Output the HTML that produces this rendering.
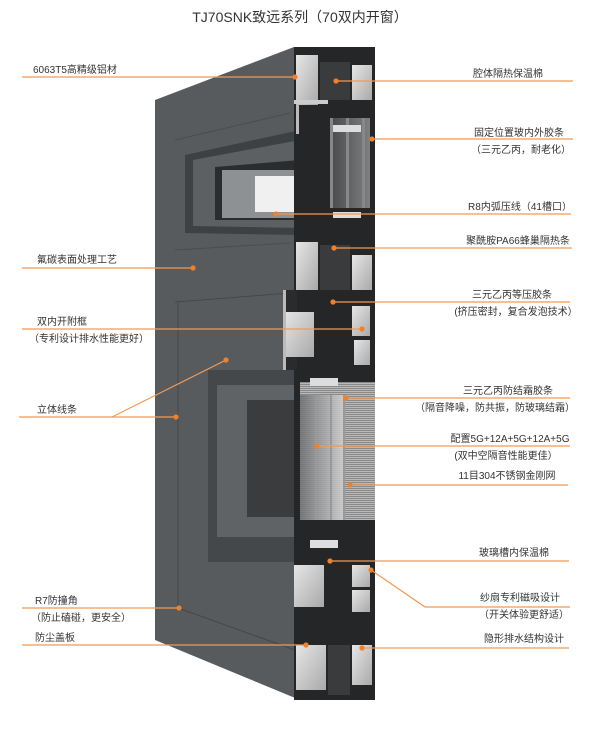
<!DOCTYPE html>
<html><head><meta charset="utf-8"><style>
html,body{margin:0;padding:0;background:#fff;}
body{width:600px;height:732px;overflow:hidden;}
svg text{font-family:"Liberation Sans","Noto Sans CJK SC",sans-serif;fill:#333;}
</style></head><body>
<svg width="600" height="732" viewBox="0 0 600 732" xmlns="http://www.w3.org/2000/svg">
<defs>
<linearGradient id="al" x1="0" y1="0" x2="1" y2="1"><stop offset="0" stop-color="#e6e6e6"/><stop offset="1" stop-color="#a9a9a9"/></linearGradient>
<linearGradient id="gl" x1="0" y1="0" x2="1" y2="0"><stop offset="0" stop-color="#6a6d70"/><stop offset="1" stop-color="#d8d8d8"/></linearGradient>
<pattern id="mesh" width="2" height="2" patternUnits="userSpaceOnUse"><rect width="2" height="2" fill="#b8b8b8"/><rect width="2" height="1" fill="#8a8a8a"/></pattern>
</defs>
<text x="300" y="22" font-size="14" text-anchor="middle">TJ70SNK致远系列（70双内开窗）</text>

<polygon points="155,100 294,47 300,700 155,640" fill="#585b5e"/>
<line x1="175" y1="302" x2="290" y2="293" stroke="#45484a"/>
<line x1="178" y1="302" x2="178" y2="608" stroke="#45484a"/>
<line x1="178" y1="608" x2="295" y2="650" stroke="#45484a"/>
<line x1="175" y1="140" x2="290" y2="113" stroke="#4a4d50"/>
<line x1="175" y1="250" x2="290" y2="243" stroke="#4a4d50"/>
<polygon points="185,155 300,130 300,235 185,233" fill="#3e4143"/>
<polygon points="193,160 300,140 300,228 193,226" fill="#5d6063"/>
<polygon points="215,167 300,160 300,220 215,220" fill="#2a2c2e"/>
<rect x="222" y="170" width="78" height="48" fill="#8e9194"/>
<rect x="255" y="176" width="45" height="36" fill="#f0f0f0"/>
<rect x="208" y="370" width="92" height="192" fill="#45484b"/>
<rect x="217" y="385" width="83" height="152" fill="#606366"/>
<rect x="247" y="400" width="53" height="117" fill="#3a3c3e"/>

<rect x="294" y="47" width="81" height="653" fill="#252628"/>
<rect x="296" y="55" width="22" height="50" fill="url(#al)"/>
<rect x="320" y="62" width="30" height="38" fill="#3a3b3d"/>
<rect x="352" y="65" width="20" height="35" fill="url(#al)"/>
<rect x="294" y="100" width="34" height="4" fill="#ccc"/>
<rect x="296" y="104" width="3" height="30" fill="#bbb"/>
<rect x="330" y="118" width="40" height="90" fill="url(#gl)" opacity="0.5"/>
<rect x="330" y="118" width="3" height="90" fill="#888"/>
<rect x="346" y="118" width="3" height="90" fill="#888"/>
<rect x="362" y="118" width="3" height="90" fill="#888"/>
<rect x="333" y="125" width="28" height="7" fill="#ddd"/>
<rect x="333" y="212" width="28" height="6" fill="#ddd"/>
<rect x="296" y="242" width="22" height="48" fill="url(#al)"/>
<rect x="320" y="245" width="30" height="45" fill="#3a3b3d"/>
<rect x="352" y="255" width="20" height="35" fill="url(#al)"/>
<rect x="283" y="290" width="14" height="80" fill="#2a2b2d"/>
<rect x="284" y="312" width="30" height="45" fill="url(#al)"/>
<rect x="283" y="290" width="3" height="80" fill="#bbb"/>
<rect x="352" y="306" width="18" height="30" fill="url(#al)"/>
<rect x="354" y="340" width="16" height="25" fill="url(#al)"/>
<rect x="300" y="382" width="75" height="138" fill="url(#mesh)"/>
<rect x="300" y="395" width="45" height="125" fill="url(#gl)" opacity="0.8"/>
<rect x="315" y="395" width="2" height="125" fill="#999"/>
<rect x="330" y="395" width="2" height="125" fill="#999"/>
<rect x="343" y="395" width="2" height="125" fill="#999"/>
<rect x="310" y="378" width="28" height="8" fill="#ddd"/>
<rect x="310" y="540" width="28" height="8" fill="#ddd"/>
<rect x="294" y="565" width="30" height="42" fill="url(#al)"/>
<rect x="352" y="565" width="18" height="22" fill="url(#al)"/>
<rect x="352" y="590" width="18" height="22" fill="url(#al)"/>
<rect x="296" y="645" width="30" height="45" fill="url(#al)"/>
<rect x="328" y="645" width="22" height="50" fill="#3a3b3d"/>
<rect x="352" y="645" width="20" height="40" fill="url(#al)"/>

<g stroke="#f19a55" stroke-width="1.2" fill="none">
<line x1="22" y1="77" x2="295" y2="77"/>
<line x1="22" y1="268" x2="193" y2="268"/>
<line x1="22" y1="329" x2="362" y2="329"/>
<line x1="19" y1="417" x2="176" y2="417"/>
<line x1="112" y1="417" x2="226" y2="360"/>
<line x1="22" y1="608" x2="179" y2="608"/>
<line x1="22" y1="645" x2="306" y2="645"/>
<line x1="336" y1="81" x2="573" y2="81"/>
<line x1="372" y1="139" x2="573" y2="139"/>
<line x1="276" y1="214" x2="571" y2="214"/>
<line x1="334" y1="248" x2="572" y2="248"/>
<line x1="333" y1="302" x2="570" y2="302"/>
<line x1="346" y1="398" x2="570" y2="398"/>
<line x1="317" y1="446" x2="570" y2="446"/>
<line x1="350" y1="485" x2="568" y2="485"/>
<line x1="330" y1="561" x2="569" y2="561"/>
<polyline points="371,570 425,607 570,607"/>
<line x1="362" y1="648" x2="569" y2="648"/>
</g>
<g fill="#f0812a">
<circle cx="295" cy="77" r="2.6"/><circle cx="193" cy="268" r="2.6"/><circle cx="362" cy="329" r="2.6"/>
<circle cx="176" cy="417" r="2.6"/><circle cx="226" cy="360" r="2.6"/><circle cx="179" cy="608" r="2.6"/>
<circle cx="306" cy="645" r="2.6"/><circle cx="336" cy="81" r="2.6"/><circle cx="372" cy="139" r="2.6"/>
<circle cx="276" cy="214" r="2.6"/><circle cx="334" cy="248" r="2.6"/><circle cx="333" cy="302" r="2.6"/>
<circle cx="346" cy="398" r="2.6"/><circle cx="317" cy="446" r="2.6"/><circle cx="350" cy="485" r="2.6"/>
<circle cx="330" cy="561" r="2.6"/><circle cx="371" cy="570" r="2.6"/><circle cx="362" cy="648" r="2.6"/>
</g>

<g font-size="10">
<text x="33" y="73">6063T5高精级铝材</text>
<text x="37" y="263">氟碳表面处理工艺</text>
<text x="37" y="325">双内开附框</text>
<text x="29" y="342">（专利设计排水性能更好）</text>
<text x="37" y="413">立体线条</text>
<text x="35" y="604">R7防撞角</text>
<text x="31" y="621">（防止磕碰，更安全）</text>
<text x="35" y="641">防尘盖板</text>
</g>
<g font-size="10" text-anchor="middle">
<text x="508" y="77">腔体隔热保温棉</text>
<text x="519" y="136">固定位置玻内外胶条</text>
<text x="521" y="153">（三元乙丙，耐老化）</text>
<text x="520" y="210">R8内弧压线（41槽口）</text>
<text x="518" y="244">聚酰胺PA66蜂巢隔热条</text>
<text x="512" y="298">三元乙丙等压胶条</text>
<text x="516" y="315">(挤压密封，复合发泡技术）</text>
<text x="508" y="394">三元乙丙防结霜胶条</text>
<text x="495" y="411">（隔音降噪，防共振，防玻璃结霜）</text>
<text x="510" y="442">配置5G+12A+5G+12A+5G</text>
<text x="506" y="459">(双中空隔音性能更佳）</text>
<text x="507" y="479">11目304不锈钢金刚网</text>
<text x="514" y="556">玻璃槽内保温棉</text>
<text x="520" y="601">纱扇专利磁吸设计</text>
<text x="524" y="618">（开关体验更舒适）</text>
<text x="524" y="642">隐形排水结构设计</text>
</g>
</svg>
</body></html>
